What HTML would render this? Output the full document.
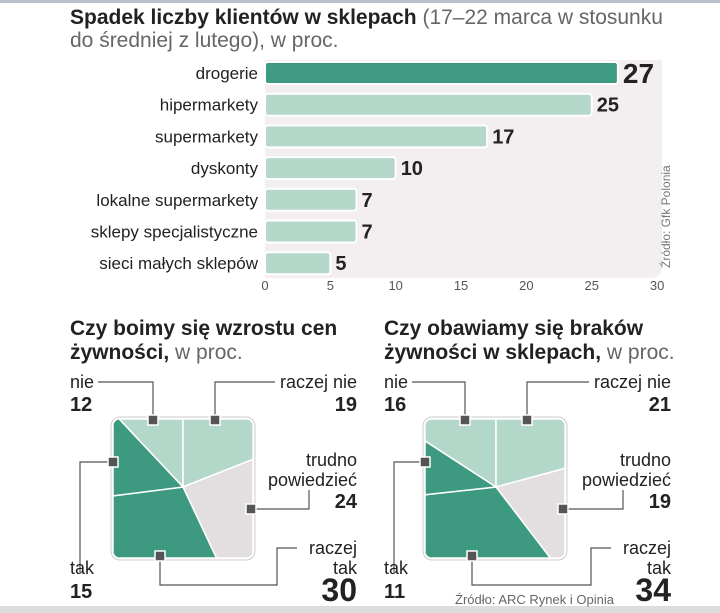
<!DOCTYPE html>
<html><head><meta charset="utf-8"><style>
html,body{margin:0;padding:0;background:#fff;}
svg{display:block;font-family:"Liberation Sans Narrow","Liberation Sans",sans-serif;}
.b{font-weight:bold;fill:#222;}
.l{fill:#222;}
.g{fill:#666;}
</style></head><body>
<svg id="s" width="720" height="613" viewBox="0 0 720 613">
<rect x="0" y="0" width="720" height="3" fill="#b8c0cc"/>
<rect x="0" y="606" width="720" height="7" fill="#ddd"/>
<text x="70" y="24" font-size="21"><tspan class="b">Spadek liczby klientów w sklepach</tspan><tspan class="g"> (17–22 marca w stosunku</tspan></text>
<text x="70" y="47" font-size="21" class="g">do średniej z lutego), w proc.</text>
<path d="M265 60 H662 V266 Q662 278 650 278 H265 Z" fill="#f3eff1"/>
<g id="bars"></g>
<text transform="translate(670,268) rotate(-90)" font-size="12" fill="#777" font-family="Liberation Sans,sans-serif">Źródło: Gfk Polonia</text>
<text x="70" y="335" font-size="21" class="b">Czy boimy się wzrostu cen</text>
<text x="70" y="359" font-size="21"><tspan class="b">żywności,</tspan><tspan class="g"> w proc.</tspan></text>
<text x="384" y="335" font-size="21" class="b">Czy obawiamy się braków</text>
<text x="384" y="359" font-size="21"><tspan class="b">żywności w sklepach,</tspan><tspan class="g"> w proc.</tspan></text>
<g id="pies"></g>
<text x="455" y="604" font-size="13" fill="#666" font-family="Liberation Sans,sans-serif">Źródło: ARC Rynek i Opinia</text>
</svg>
<script>
const categories=["drogerie","hipermarkety","supermarkety","dyskonty","lokalne supermarkety","sklepy specjalistyczne","sieci małych sklepów"];
const values=[27,25,17,10,7,7,5];
const ticks=[0,5,10,15,20,25,30];
const pieLabels=["nie","raczej nie","trudno powiedzieć","raczej tak","tak"];
const pie1Values=[12,19,24,30,15];
const pie2Values=[16,21,19,34,11];
const NS="http://www.w3.org/2000/svg";
function mk(t,a,p){const e=document.createElementNS(NS,t);for(const k in a)e.setAttribute(k,a[k]);p.appendChild(e);return e;}
const x=v=>265+v*13.07;
const rowY=i=>73+i*31.7;
const bars=document.getElementById('bars');
categories.forEach((c,i)=>{
  const cy=rowY(i);
  const r=mk('rect',{x:x(0),y:cy-11,width:x(values[i])-x(0),height:22,rx:3,fill:i==0?'#3f9a82':'#b5d8cb',stroke:'#fff','stroke-width':2},bars);
  
  
  const t=mk('text',{x:258,y:cy+6,'font-size':17,'text-anchor':'end',class:'l'},bars);t.textContent=c;
  
  
  const v=mk('text',{x:x(values[i])+5,y:cy+(i==0?10:7),'font-size':i==0?28:20,class:'b'},bars);v.textContent=values[i];
  
  
});
ticks.forEach(tv=>{
  const t=mk('text',{x:x(tv),y:290,'font-size':13,'text-anchor':'middle',fill:'#555'},bars);t.textContent=tv;
  
  
});
const pies=document.getElementById('pies');
const cols=['#b3d8ca','#b3d8ca','#e3dfe1','#3d9a80','#3d9a80'];
function pie(vals,L,cx,cy,id){
  const x0=L,x1=L+140,y0=419,y1=558;
  const cl=mk('clipPath',{id:id},pies);mk('rect',{x:x0,y:y0,width:140,height:139,rx:8},cl);
  mk('rect',{x:x0-2,y:y0-2,width:144,height:143,rx:9,fill:'#fff',stroke:'#ccc','stroke-width':1},pies);
  const g=mk('g',{'clip-path':'url(#'+id+')'},pies);
  const tot=vals.reduce((a,b)=>a+b,0);
  let a=-vals[0]/tot*360;
  vals.forEach((v,i)=>{
    const a1=a+v/tot*360;let pts=[[cx,cy]];
    for(let d=a;d<=a1+0.001;d+=Math.min(1,a1-d||1)){
      const r=d*Math.PI/180,dx=Math.sin(r),dy=-Math.cos(r);
      const tx=dx>0?(x1-cx)/dx:dx<0?(x0-cx)/dx:1e9,ty=dy>0?(y1-cy)/dy:dy<0?(y0-cy)/dy:1e9;
      const t=Math.min(tx,ty);pts.push([cx+dx*t,cy+dy*t]);if(d>=a1)break;
    }
    const p=mk('polygon',{points:pts.map(q=>q.join(',')).join(' '),fill:cols[i],stroke:'#fff','stroke-width':1.5},g);
    
    
    a=a1;
  });
}
function lines(d,p){mk('path',{d:d,fill:'none',stroke:'#555','stroke-width':1.2},pies);}
function mark(mx,my){const m=mk('rect',{x:mx-5,y:my-5,width:10,height:10,fill:'#555',stroke:'#fff','stroke-width':1.5},pies);
  
  }
function txt(s,tx,ty,sz,anc,cls){const t=mk('text',{x:tx,y:ty,'font-size':sz,'text-anchor':anc,class:cls},pies);t.textContent=s;
  
  }
function chart(vals,o,L,cx,id){
  pie(vals,L,cx,487,id);
  const R=357+o;
  lines(`M${o+98} 382 H${L+40} V418`);lines(`M${R-82} 382 H${L+102} V418`);
  lines(`M${L+140} 509 H${R-48} V490`);
  lines(`M${R-60} 548 H${R-80} V585 H${L+47} V558`);
  lines(`M${L} 462 H${o+80} V572`);
  mark(L+40,420);mark(L+102,420);mark(L+138,509);mark(L+47,556);mark(L,462);
  txt('nie',o+70,388,18,'start','l');txt(vals[0],o+70,411,20,'start','b');
  txt('raczej nie',R,388,18,'end','l');txt(vals[1],R,411,20,'end','b');
  txt('trudno',R,466,18,'end','l');txt('powiedzieć',R,486,18,'end','l');txt(vals[2],R,508,20,'end','b');
  txt('raczej',R,554,18,'end','l');txt('tak',R,574,18,'end','l');txt(vals[3],R,601,32,'end','b');
  txt('tak',o+70,574,18,'start','l');txt(vals[4],o+70,598,20,'start','b');
}
chart(pie1Values,0,113,183,'c1');
chart(pie2Values,314,425,496,'c2');
</script>
</body></html>
